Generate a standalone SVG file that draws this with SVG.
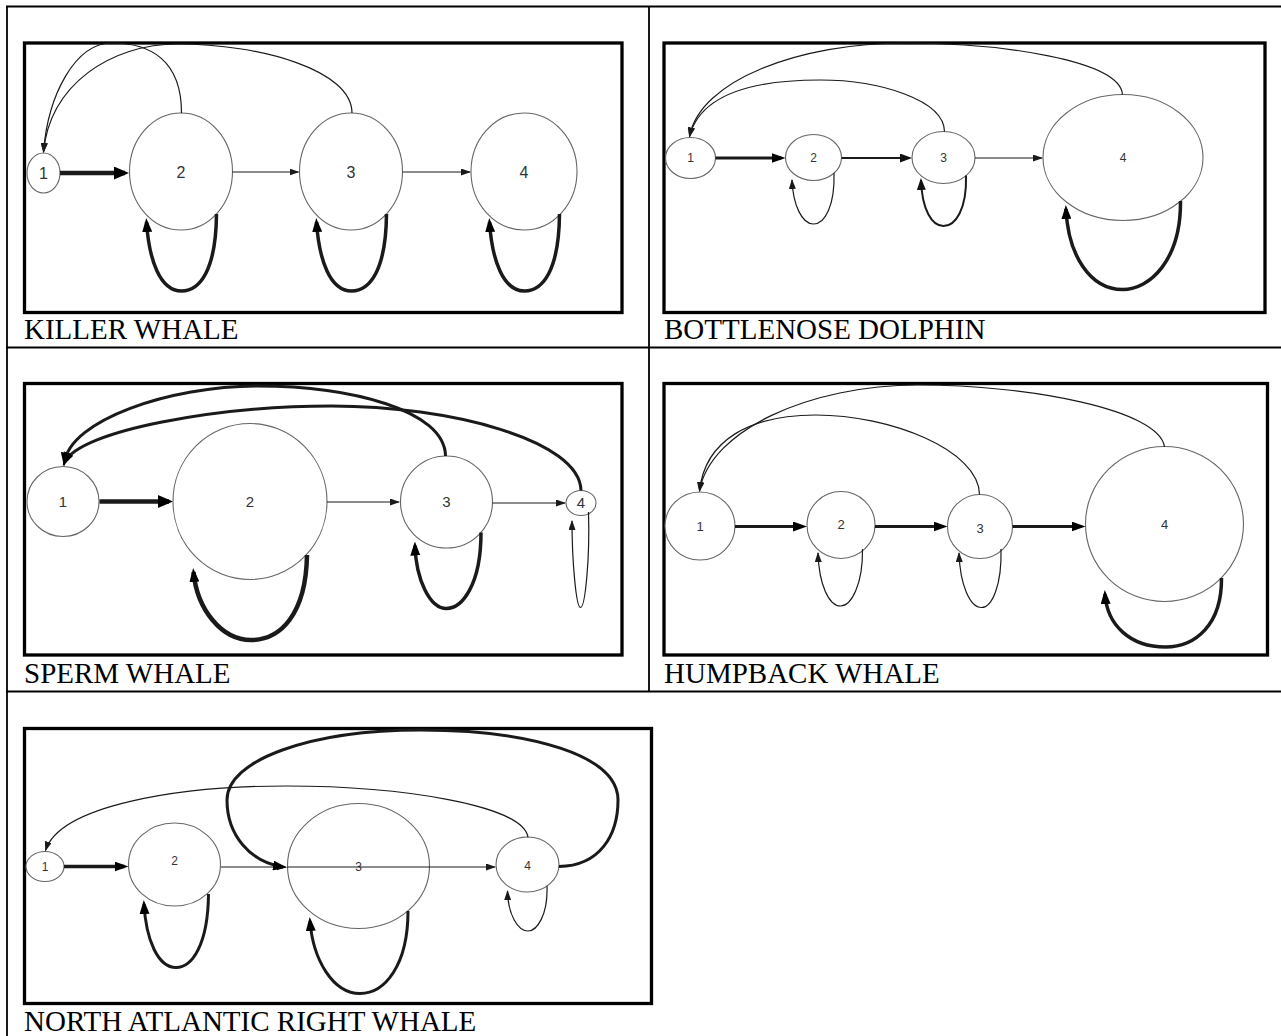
<svg xmlns="http://www.w3.org/2000/svg" width="1281" height="1036" viewBox="0 0 1281 1036">
<style>
.tbl{stroke:#000;stroke-width:1.8;fill:none}
.box{fill:none;stroke:#000;stroke-width:3.3}
.node ellipse{fill:#fff;stroke:#666;stroke-width:1.1}
.node text{font-family:"Liberation Sans",Arial,sans-serif;fill:#333;text-anchor:middle}
.e{fill:none;stroke:#1a1a1a}
.t1{stroke-width:1.2}
.t2{stroke-width:2}
.t3{stroke-width:3}
.t35{stroke-width:3.5}
.t4{stroke-width:4.5}
.cap{font-family:"Liberation Serif","Times New Roman",serif;font-size:29px;fill:#000}
.fA text{font-size:16px}
.fB text{font-size:12px}
.fC text{font-size:15px}
.fD text{font-size:13px}
.fE text{font-size:12px}
</style>
<defs>
<marker id="ahs" markerUnits="userSpaceOnUse" markerWidth="10" markerHeight="7" refX="9" refY="3.5" orient="auto"><path d="M0,0 L10,3.5 L0,7 z" fill="#1a1a1a"/></marker>
<marker id="ahm" markerUnits="userSpaceOnUse" markerWidth="12" markerHeight="9" refX="10" refY="4.5" orient="auto"><path d="M0,0 L12,4.5 L0,9 z" fill="#111"/></marker>
<marker id="aht" markerUnits="userSpaceOnUse" markerWidth="14" markerHeight="10" refX="10" refY="5" orient="auto"><path d="M0,0 L14,5 L0,10 z" fill="#000"/></marker>
<marker id="ahb" markerUnits="userSpaceOnUse" markerWidth="15" markerHeight="13" refX="11" refY="6.5" orient="auto"><path d="M0,0 L15,6.5 L0,13 z" fill="#000"/></marker>
</defs>
<rect width="1281" height="1036" fill="#fff"/>
<g id="table">
<line class="tbl" x1="6" y1="6.5" x2="1281" y2="6.5"/>
<line class="tbl" x1="7" y1="6" x2="7" y2="1036"/>
<line class="tbl" x1="649" y1="6" x2="649" y2="692"/>
<line class="tbl" x1="6" y1="347.5" x2="1281" y2="347.5"/>
<line class="tbl" x1="6" y1="691.5" x2="1281" y2="691.5"/>
<text class="cap" x="24" y="339">KILLER WHALE</text>
<text class="cap" x="664" y="339">BOTTLENOSE DOLPHIN</text>
<text class="cap" x="24" y="683">SPERM WHALE</text>
<text class="cap" x="664" y="683">HUMPBACK WHALE</text>
<text class="cap" x="24" y="1031">NORTH ATLANTIC RIGHT WHALE</text>
</g>

<g id="killer-whale" class="fA">
<rect class="box" x="24.5" y="43" width="597.5" height="269.5"/>
<g id="kw-n1" class="node"><ellipse cx="43.5" cy="173" rx="16.5" ry="20"/><text x="43.5" y="178.7">1</text></g>
<g id="kw-n2" class="node"><ellipse cx="181" cy="171.5" rx="51.5" ry="58.5"/><text x="181" y="177.5">2</text></g>
<g id="kw-n3" class="node"><ellipse cx="351" cy="171.5" rx="51.5" ry="58.5"/><text x="351" y="177.5">3</text></g>
<g id="kw-n4" class="node"><ellipse cx="524" cy="171.5" rx="53" ry="58.5"/><text x="524" y="177.5">4</text></g>
<g id="kw-edges">
<path class="e t4" d="M60,173 L125,173" marker-end="url(#ahb)"/>
<path class="e t1" d="M232.5,172 L298.5,172" marker-end="url(#ahs)"/>
<path class="e t1" d="M402.5,172 L470,172" marker-end="url(#ahs)"/>
<path class="e t1" d="M181.5,113 C181.5,60 150,43 112,43 C75,43 48,95 43.5,152" marker-end="url(#ahs)"/>
<path class="e t1" d="M352,113 C352,70 260,44 178,44 C110,44 50,85 43.5,152" marker-end="url(#ahs)"/>
<path class="e t35" d="M216.5,214 C216,270 200,291 181.5,291 C160,291 149,260 146.5,222" marker-end="url(#aht)"/>
<path class="e t35" d="M386.5,214 C386,270 370,291 351.5,291 C330,291 319,260 316.5,222" marker-end="url(#aht)"/>
<path class="e t35" d="M559.5,214 C559,270 543,291 524.5,291 C503,291 492,260 489.5,222" marker-end="url(#aht)"/>
</g>
</g>

<g id="bottlenose-dolphin" class="fB">
<rect class="box" x="664" y="43" width="601" height="269.5"/>
<g id="bd-n1" class="node"><ellipse cx="690.5" cy="158" rx="25" ry="20.5"/><text x="690.5" y="162.3">1</text></g>
<g id="bd-n2" class="node"><ellipse cx="813.5" cy="157.5" rx="28" ry="23"/><text x="813.5" y="161.8">2</text></g>
<g id="bd-n3" class="node"><ellipse cx="943.5" cy="157.5" rx="31.5" ry="26"/><text x="943.5" y="161.8">3</text></g>
<g id="bd-n4" class="node"><ellipse cx="1123" cy="157.5" rx="80" ry="63"/><text x="1123" y="161.8">4</text></g>
<g id="bd-edges">
<path class="e t3" d="M715.5,158 L781.5,158" marker-end="url(#aht)"/>
<path class="e t2" d="M841.5,158 L910,158" marker-end="url(#ahm)"/>
<path class="e t1" d="M975,158 L1042,158" marker-end="url(#ahs)"/>
<path class="e t1" d="M944.5,131.5 C944,100 880,80 820,80 C750,80 700,95 689.5,136.5" marker-end="url(#ahs)"/>
<path class="e t1" d="M1122.5,94.5 C1120,60 1000,43 905,43 C800,43 700,80 689.5,136.5" marker-end="url(#ahs)"/>
<path class="e t1" d="M834,173 C835,205 825,224 813.5,224 C802,224 793,205 792,180" marker-end="url(#ahs)"/>
<path class="e t2" d="M966,175.5 C967,210 955,226 943.5,226 C932,226 922,210 921,180" marker-end="url(#ahm)"/>
<path class="e t35" d="M1180.5,201 C1181,260 1150,289.5 1122.5,289.5 C1090,289.5 1068,255 1066,209" marker-end="url(#aht)"/>
</g>
</g>

<g id="sperm-whale" class="fC">
<rect class="box" x="24.5" y="383.5" width="597.5" height="271.5"/>
<g id="sw-n1" class="node"><ellipse cx="63" cy="501.5" rx="36" ry="35"/><text x="63" y="506.9">1</text></g>
<g id="sw-n2" class="node"><ellipse cx="250" cy="501.5" rx="77" ry="78"/><text x="250" y="506.9">2</text></g>
<g id="sw-n3" class="node"><ellipse cx="446.5" cy="502" rx="46" ry="46"/><text x="446.5" y="507.4">3</text></g>
<g id="sw-n4" class="node"><ellipse cx="581" cy="503" rx="15" ry="12.5"/><text x="581" y="508.4">4</text></g>
<g id="sw-edges">
<path class="e t4" d="M99.5,501.5 L169,501.5" marker-end="url(#ahb)"/>
<path class="e t1" d="M327,502 L399,502" marker-end="url(#ahs)"/>
<path class="e t1" d="M492.5,503 L565,503" marker-end="url(#ahs)"/>
<path class="e t3" d="M445.5,456 C445,410 350,386 257,386 C170,386 70,420 64.5,462.5" marker-end="url(#aht)"/>
<path class="e t3" d="M581,490.5 C580,440 450,406 331.7,406 C220,406 80,430 64.5,462.5" marker-end="url(#aht)"/>
<path class="e t4" d="M307,555 C306,615 280,640 251,640 C222,640 197,610 193.5,572" marker-end="url(#aht)"/>
<path class="e t35" d="M481,532.5 C481,585 462,608.5 446.5,608.5 C430,608.5 416,580 415,545.5" marker-end="url(#aht)"/>
<path class="e t1" d="M588.5,512 C590,560 585,607.5 580.5,607.5 C576,607.5 572,560 572,521" marker-end="url(#ahs)"/>
</g>
</g>

<g id="humpback-whale" class="fD">
<rect class="box" x="664" y="383.5" width="603.5" height="271.5"/>
<g id="hw-n1" class="node"><ellipse cx="700" cy="526" rx="35" ry="34"/><text x="700" y="530.7">1</text></g>
<g id="hw-n2" class="node"><ellipse cx="841" cy="525" rx="34" ry="33.5"/><text x="841" y="528.7">2</text></g>
<g id="hw-n3" class="node"><ellipse cx="980" cy="526.5" rx="32.5" ry="32"/><text x="980" y="532.5">3</text></g>
<g id="hw-n4" class="node"><ellipse cx="1164.5" cy="524" rx="79" ry="77.5"/><text x="1164.5" y="528.7">4</text></g>
<g id="hw-edges">
<path class="e t3" d="M735,526.5 L803,526.5" marker-end="url(#aht)"/>
<path class="e t3" d="M875,526.5 L943.5,526.5" marker-end="url(#aht)"/>
<path class="e t3" d="M1012.5,526.5 L1081.5,526.5" marker-end="url(#aht)"/>
<path class="e t1" d="M979.5,494.5 C979,450 890,415 815.8,415 C750,415 705,440 699.5,491" marker-end="url(#ahs)"/>
<path class="e t1" d="M1164.5,447 C1160,410 1030,385 918,385 C810,385 710,430 699.5,491" marker-end="url(#ahs)"/>
<path class="e t1" d="M862.5,549 C863,585 851,606 840.5,606 C829,606 819,585 818,553" marker-end="url(#ahs)"/>
<path class="e t1" d="M1001,549 C1002,585 992,607.5 981.5,607.5 C970,607.5 960,585 959,553" marker-end="url(#ahs)"/>
<path class="e t35" d="M1221.5,578 C1222,625 1195,647 1165.5,647 C1130,647 1107,625 1105,594" marker-end="url(#aht)"/>
</g>
</g>

<g id="north-atlantic-right-whale" class="fE">
<rect class="box" x="24.5" y="728.5" width="627" height="275"/>
<g id="nr-n1" class="node"><ellipse cx="45" cy="866.5" rx="19" ry="15"/><text x="45" y="870.8">1</text></g>
<g id="nr-n2" class="node"><ellipse cx="174.5" cy="864.5" rx="46" ry="41.5"/><text x="174.5" y="865.3">2</text></g>
<g id="nr-n3" class="node"><ellipse cx="358.5" cy="866" rx="71" ry="62.5"/><text x="358.5" y="871.3">3</text></g>
<g id="nr-n4" class="node"><ellipse cx="527.5" cy="864.5" rx="31.5" ry="27.5"/><text x="527.5" y="869.8">4</text></g>
<g id="nr-edges">
<path class="e t35" d="M64,866.5 L124.5,866.5" marker-end="url(#aht)"/>
<path class="e t1" d="M221,867 L285.5,867" marker-end="url(#ahs)"/>
<path class="e t1" d="M287.5,867 L495,867" marker-end="url(#ahs)"/>
<path class="e t3" d="M559,866.5 C600,866 618,835 618,800 C618,755 530,730 421,730 C310,730 227,760 227,800 C227,835 250,862 283,867" marker-end="url(#aht)"/>
<path class="e t1" d="M528,837.5 C524,805 400,786 286,786 C180,786 60,805 45.5,850.5" marker-end="url(#ahs)"/>
<path class="e t3" d="M208.5,894 C208,945 192,967.5 176,967.5 C158,967.5 146,940 144,904" marker-end="url(#aht)"/>
<path class="e t3" d="M408,911 C408,965 385,993.5 360,993.5 C333,993.5 313,960 310,921" marker-end="url(#aht)"/>
<path class="e t1" d="M547,886 C548,915 537,931 528,931 C518,931 508,915 507.5,891" marker-end="url(#ahs)"/>
</g>
</g>
</svg>
